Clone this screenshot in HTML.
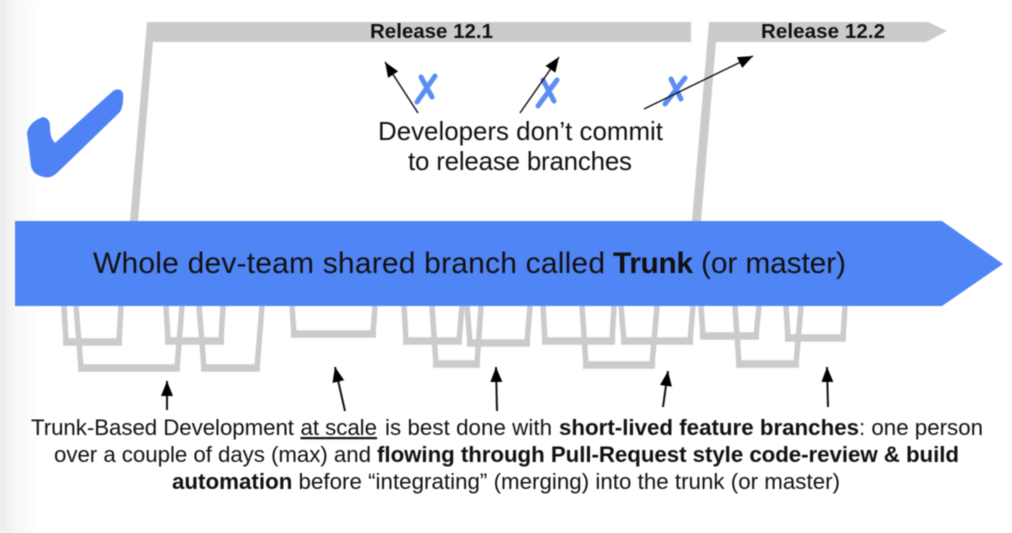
<!DOCTYPE html>
<html><head><meta charset="utf-8">
<style>
html,body{margin:0;padding:0;background:#fff;width:1012px;height:533px;overflow:hidden}
svg{display:block;filter:blur(0.45px)}
text{font-family:"Liberation Sans",sans-serif;fill:#111}
.b{font-weight:bold}
</style></head>
<body>
<svg width="1012" height="533" viewBox="0 0 1012 533" xmlns="http://www.w3.org/2000/svg">
<defs>
<linearGradient id="g" x1="0" x2="1" y1="0" y2="0"><stop offset="0" stop-color="#ebebeb"/><stop offset="0.35" stop-color="#f7f7f7"/><stop offset="1" stop-color="#fff"/></linearGradient>
<marker id="a" viewBox="0 0 15 12" refX="15" refY="6" markerWidth="15" markerHeight="12" markerUnits="userSpaceOnUse" orient="auto"><path d="M0 0L15 6L0 12Z" fill="#000"/></marker>
</defs>
<rect width="1012" height="533" fill="#fff"/>
<rect width="42" height="533" fill="url(#g)"/>

<g fill="#cbcbcb">
<path d="M147 22H691V42H153L138 221H130Z"/>
<path d="M709 22H928L947 31L926 42H716L701 221H692Z"/>
</g>

<path d="M27 133Q29 122 43 117Q50 118 50 127Q50 138 55 143L113 91Q120 87 123 93Q124 105 120 112L58 172Q51 179 44 177Q33 175 31 166Z" fill="#4f83f5"/>

<g fill="none" stroke="#cbcbcb" stroke-width="5.5">
<path d="M64 306L66 342H119L121 306"/>
<path d="M76 306L81 368H177L182 306"/>
<path d="M166 306L168 341H221L223 306"/>
<path d="M199 306L204 368H257L262 306"/>
<path d="M292 306L294 334H373L375 306"/>
<path d="M404 306L406 341H459L462 306"/>
<path d="M432 306L436 364H477L481 306"/>
<path d="M467 306L470 343H527L530 306"/>
<path d="M543 306L545 341H612L614 306"/>
<path d="M582 306L586 365H652L657 306"/>
<path d="M621 306L624 341H690L693 306"/>
<path d="M701 306L703 336H756L759 306"/>
<path d="M735 306L739 364H796L801 306"/>
<path d="M786 306L788 338H843L845 306"/>
</g>
<g fill="none" stroke="#cbcbcb" stroke-width="7.5">
<path d="M63 342H122M78 368H180M165 341H224M201 368H260M291 334H376M403 341H462M433 364H480M467 343H530M542 341H615M583 365H655M621 341H693M700 336H759M736 364H799M785 338H846"/>
</g>

<path d="M15 221H942L1003 264L942 306H15Z" fill="#5085f6"/>

<g fill="none" stroke="#5b8df5" stroke-width="5" stroke-linecap="round">
<path d="M417 102L435 76M421 77L432 97"/>
<path d="M538 106L557 80M543 80L554 101"/>
<path d="M665 104L685 78M671 79L681 99"/>
</g>

<g stroke="#111" stroke-width="1.5" fill="none">
<path d="M418 113L385 62" marker-end="url(#a)"/>
<path d="M520 113L559 57" marker-end="url(#a)"/>
<path d="M644 109L753 56" marker-end="url(#a)"/>
</g>
<g stroke="#111" stroke-width="2" fill="none">
<path d="M167 410L167 381" marker-end="url(#a)"/>
<path d="M345 411L335 367" marker-end="url(#a)"/>
<path d="M497 411L496 367" marker-end="url(#a)"/>
<path d="M663 407L668 371" marker-end="url(#a)"/>
<path d="M828 407L827 367" marker-end="url(#a)"/>
</g>

<text x="370" y="38" font-size="20.5" class="b" textLength="123">Release 12.1</text>
<text x="761" y="38" font-size="20.5" class="b" textLength="124">Release 12.2</text>

<text x="378" y="140" font-size="25.9" textLength="285">Developers don’t commit</text>
<text x="408" y="170" font-size="25.9" textLength="224">to release branches</text>

<text x="93" y="273" font-size="30" textLength="512">Whole dev-team shared branch called</text>
<text x="613" y="273" font-size="30" class="b" textLength="80">Trunk</text>
<text x="701" y="273" font-size="30" textLength="145">(or master)</text>

<text x="31" y="435" font-size="22.3" textLength="263">Trunk-Based Development</text>
<text x="300.5" y="435" font-size="22.3" text-decoration="underline" textLength="76.5">at scale</text>
<text x="385" y="435" font-size="22.3" textLength="167">is best done with</text>
<text x="559" y="435" font-size="22.3" class="b" textLength="300">short-lived feature branches</text>
<text x="859" y="435" font-size="22.3" textLength="124">: one person</text>
<text x="54" y="462" font-size="22.3" textLength="905">over a couple of days (max) and <tspan class="b">flowing through Pull-Request style code-review &amp; build</tspan></text>
<text x="172" y="489" font-size="22.3" textLength="668"><tspan class="b">automation</tspan> before “integrating” (merging) into the trunk (or master)</text>
</svg>
</body></html>
